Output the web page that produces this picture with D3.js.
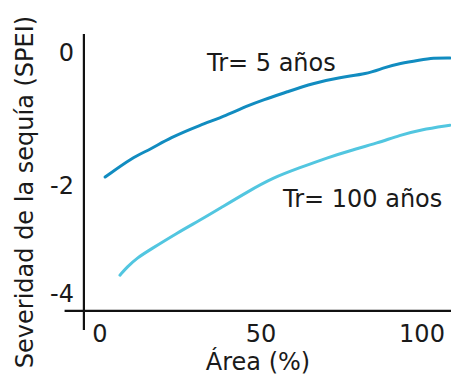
<!DOCTYPE html>
<html>
<head>
<meta charset="utf-8">
<script src="https://cdn.jsdelivr.net/npm/d3@7"></script>
<style>
  body { margin: 0; background: #fff; }
  text { font-family: "DejaVu Sans", Verdana, sans-serif; fill: #1a1a1a; }
</style>
</head>
<body>
<div id="chart-area"></div>
<script>
// DATA
var area5 = [1.6, 10.2, 15.5, 21.7, 31.1, 39.4, 45.7, 50.6, 58.1, 66.1, 74.5, 82.9, 87.9, 93.2, 99.4, 103.4, 108.7];
var spei5 = [-1.88, -1.58, -1.47, -1.29, -1.10, -0.95, -0.81, -0.72, -0.60, -0.47, -0.38, -0.33, -0.24, -0.17, -0.12, -0.09, -0.09];
var area100 = [6.2, 8.4, 11.5, 15.5, 23.9, 31.1, 37.3, 45.7, 53.7, 62.1, 70.5, 78.6, 86.0, 93.2, 99.4, 108.7];
var spei100 = [-3.67, -3.52, -3.35, -3.20, -2.89, -2.65, -2.43, -2.13, -1.89, -1.74, -1.59, -1.47, -1.37, -1.25, -1.17, -1.10];
var xTicks = [0, 50, 100];
var yTicks = [0, -2, -4];
var seriesLabels = ["Tr= 5 años", "Tr= 100 años"];

var width = 451, height = 376;

var svg = d3.select('#chart-area')
	.append('svg')
	.attr('width', width)
	.attr('height', height);

//SCALES (hand-drawn axis, ticks not evenly spaced)
var x = d3.scaleLinear()
	.domain([0, 100])
	.range([100, 422]);

var y = d3.scaleLinear()
	.domain([0, -2, -4])
	.range([52, 185, 293]);

//AXIS LINES
svg.append('line')
	.attr('x1', x(-5)).attr('x2', x(-5))
	.attr('y1', 34).attr('y2', 330)
	.attr('stroke', '#111').attr('stroke-width', 2.2);

svg.append('line')
	.attr('x1', x(-11)).attr('x2', width)
	.attr('y1', y(-4.33)).attr('y2', y(-4.33))
	.attr('stroke', '#111').attr('stroke-width', 2.2);

//TICK LABELS
svg.selectAll('.ytick')
	.data(yTicks)
	.enter().append('text')
	.attr('class', 'ytick')
	.attr('x', 74)
	.attr('y', function (d) { return y(d) + 9; })
	.attr('text-anchor', 'end')
	.attr('font-size', '24px')
	.text(function (d) { return d; });

svg.selectAll('.xtick')
	.data(xTicks)
	.enter().append('text')
	.attr('class', 'xtick')
	.attr('x', function (d) { return x(d); })
	.attr('y', 342)
	.attr('text-anchor', 'middle')
	.attr('font-size', '24px')
	.text(function (d) { return d; });

//LABELS
svg.append('text')
	.attr('x', 258)
	.attr('y', 370)
	.attr('text-anchor', 'middle')
	.attr('font-size', '24px')
	.text('Área (%)');

svg.append('text')
	.attr('transform', 'rotate(-90)')
	.attr('x', -192)
	.attr('y', 33)
	.attr('text-anchor', 'middle')
	.attr('font-size', '24px')
	.text('Severidad de la sequía (SPEI)');

//LINES
var line = d3.line()
	.x(function (d) { return x(d[0]); })
	.y(function (d) { return y(d[1]); })
	.curve(d3.curveBasis);

svg.append('path')
	.datum(d3.zip(area5, spei5))
	.attr('fill', 'none')
	.attr('stroke', '#118cc0')
	.attr('stroke-width', 3)
	.attr('stroke-linecap', 'round')
	.attr('d', line);

svg.append('path')
	.datum(d3.zip(area100, spei100))
	.attr('fill', 'none')
	.attr('stroke', '#52c6e0')
	.attr('stroke-width', 3)
	.attr('stroke-linecap', 'round')
	.attr('d', line);

svg.append('text')
	.attr('x', 207)
	.attr('y', 71)
	.attr('font-size', '24px')
	.text(seriesLabels[0]);

svg.append('text')
	.attr('x', 283)
	.attr('y', 207)
	.attr('font-size', '24px')
	.text(seriesLabels[1]);
</script>
</body>
</html>
